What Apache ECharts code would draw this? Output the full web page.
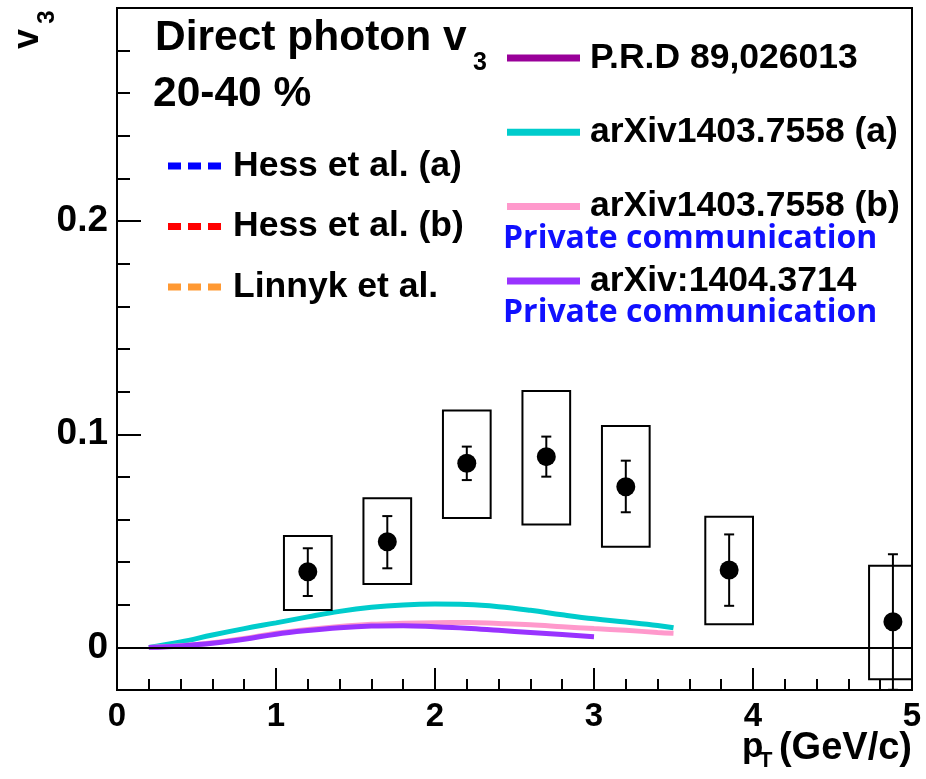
<!DOCTYPE html>
<html>
<head>
<meta charset="utf-8">
<script src="https://cdn.jsdelivr.net/npm/echarts@6/dist/echarts.min.js"></script>
<style>
  html, body { margin: 0; padding: 0; background: #fff; }
  #chart { width: 926px; height: 779px; }
</style>
</head>
<body>
<div id="chart"></div>
<script>
// Direct photon v3, 20-40 % centrality: measured points
const ptX    = [1.2, 1.7, 2.2, 2.7, 3.2, 3.85, 4.88];
const ptV3   = [0.0355, 0.0496, 0.0864, 0.0895, 0.0754, 0.0363, 0.0120];
const statLo = [0.0241, 0.0371, 0.0785, 0.0801, 0.0634, 0.0195, -0.0199];
const statHi = [0.0465, 0.0616, 0.0942, 0.0989, 0.0876, 0.0530, 0.0437];
const sysLo  = [0.0175, 0.0297, 0.0607, 0.0577, 0.0472, 0.0109, -0.0149];
const sysHi  = [0.0523, 0.0700, 0.1111, 0.1203, 0.1039, 0.0613, 0.0383];
const sysHalfWidth = 0.15;

// Model curves
const curvePt  = [0.2, 0.4, 0.6, 0.8, 1.0, 1.2, 1.4, 1.6, 1.8, 2.0, 2.2, 2.4, 2.6, 2.8, 3.0, 3.2, 3.4, 3.5];
const arxiv7558a = [0.0000, 0.0025, 0.0058, 0.0088, 0.0115, 0.0143, 0.0169, 0.0188, 0.0199, 0.0203, 0.0201, 0.0191, 0.0174, 0.0153, 0.0134, 0.0119, 0.0103, 0.0092];
const arxiv7558b = [0.0000, 0.0008, 0.0022, 0.0042, 0.0066, 0.0084, 0.0098, 0.0108, 0.0113, 0.0116, 0.0117, 0.0112, 0.0106, 0.0097, 0.0088, 0.0080, 0.0070, 0.0066];
const curvePt2 = [0.2, 0.4, 0.6, 0.8, 1.0, 1.2, 1.4, 1.6, 1.8, 2.0, 2.2, 2.4, 2.6, 2.8, 3.0];
const arxiv3714  = [0.0000, 0.0007, 0.0019, 0.0038, 0.0062, 0.0079, 0.0092, 0.0100, 0.0102, 0.0097, 0.0090, 0.0080, 0.0070, 0.0060, 0.0050];

// Axis ticks
const yMajorTicks = [0, 0.1, 0.2];
const yMinorTicks = [0.02, 0.04, 0.06, 0.08, 0.12, 0.14, 0.16, 0.18, 0.22, 0.24, 0.26, 0.28];

// Legend entries
const leftLegend  = ['Hess et al. (a)', 'Hess et al. (b)', 'Linnyk et al.'];
const rightLegend = ['P.R.D 89,026013', 'arXiv1403.7558 (a)', 'arXiv1403.7558 (b)', 'arXiv:1404.3714'];
const noteText = 'Private communication';

const FONT = "'Liberation Sans', Arial, Helvetica, sans-serif";
const NOTE_FONT = "'Open Sans', Lato, sans-serif";
const zip = (xs, ys) => xs.map((x, i) => [x, ys[i]]);

const pointRows = ptX.map((x, i) => [x, ptV3[i], statLo[i], statHi[i], sysLo[i], sysHi[i]]);

// Systematic boxes and statistical error bars, clipped to the frame
function renderErrors(params, api) {
  const cs = params.coordSys;
  const x = api.value(0);
  const clampY = y => Math.min(Math.max(y, cs.y), cs.y + cs.height);
  const clampX = v => Math.min(Math.max(v, cs.x), cs.x + cs.width);
  const bl = api.coord([x - sysHalfWidth, api.value(4)]);
  const tr = api.coord([x + sysHalfWidth, api.value(5)]);
  const left = clampX(bl[0]), right = clampX(tr[0]);
  const top = clampY(tr[1]), bottom = clampY(bl[1]);
  const c = api.coord([x, api.value(1)]);
  const eTop = clampY(api.coord([x, api.value(3)])[1]);
  const eBot = clampY(api.coord([x, api.value(2)])[1]);
  const cap = 5;
  const ls = { stroke: '#000', lineWidth: 2, fill: null };
  return {
    type: 'group',
    children: [
      { type: 'rect', shape: { x: left, y: top, width: right - left, height: bottom - top }, style: ls },
      { type: 'line', shape: { x1: c[0], y1: eTop, x2: c[0], y2: eBot }, style: ls },
      { type: 'line', shape: { x1: c[0] - cap, y1: eTop, x2: c[0] + cap, y2: eTop }, style: ls },
      { type: 'line', shape: { x1: c[0] - cap, y1: eBot, x2: c[0] + cap, y2: eBot }, style: ls }
    ]
  };
}

const dashIcon = 'path://M0,0H13V7H0Z M20,0H33V7H20Z M40,0H53V7H40Z';

const chart = echarts.init(document.getElementById('chart'));
chart.setOption({
  animation: false,
  backgroundColor: '#fff',
  grid: {
    left: 117, top: 8, right: 14, bottom: 89,
    show: true, borderColor: '#000', borderWidth: 2, backgroundColor: 'transparent'
  },
  xAxis: {
    type: 'value', min: 0, max: 5, interval: 1,
    axisLine: { onZero: false, lineStyle: { color: '#000', width: 2 } },
    axisTick: { inside: true, length: 22, lineStyle: { color: '#000', width: 2 } },
    minorTick: { show: true, splitNumber: 5, length: 11, lineStyle: { color: '#000', width: 2 } },
    splitLine: { show: false },
    axisLabel: { fontFamily: FONT, fontSize: 33, fontWeight: 'bold', color: '#000', margin: 10 }
  },
  yAxis: [
    {
      type: 'value', min: -0.02, max: 0.3,
      axisLine: { show: true, onZero: false, lineStyle: { color: '#000', width: 2 } },
      axisTick: { inside: true, length: 24, customValues: yMajorTicks, lineStyle: { color: '#000', width: 2 } },
      splitLine: { show: false },
      axisLabel: {
        customValues: yMajorTicks, fontFamily: FONT, fontSize: 37, fontWeight: 'bold', color: '#000', margin: 9,
        formatter: v => String(Math.round(v * 10) / 10)
      }
    },
    {
      type: 'value', min: -0.02, max: 0.3, position: 'left',
      axisLine: { show: false },
      axisTick: { show: true, inside: true, length: 13, customValues: yMinorTicks, lineStyle: { color: '#000', width: 2 } },
      splitLine: { show: false },
      axisLabel: { show: false }
    }
  ],
  legend: [
    {
      data: leftLegend.map(n => ({ name: n, icon: dashIcon })),
      orient: 'vertical', left: 163, top: 141, itemGap: 20.5,
      itemWidth: 53, itemHeight: 7, selectedMode: false,
      textStyle: { fontFamily: FONT, fontSize: 35.5, fontWeight: 'bold', color: '#000', lineHeight: 40, padding: [0, 0, 0, 7] }
    },
    {
      data: rightLegend.map(n => ({ name: n, icon: 'rect' })),
      orient: 'vertical', left: 502, top: 33, itemGap: 34.3,
      itemWidth: 73, itemHeight: 7, selectedMode: false,
      textStyle: { fontFamily: FONT, fontSize: 35.5, fontWeight: 'bold', color: '#000', lineHeight: 40, padding: [0, 0, 0, 5] }
    }
  ],
  graphic: [
    { type: 'text', x: 155, y: 38, style: { text: 'Direct photon v', font: `bold 42.5px ${FONT}`, fill: '#000', align: 'left', verticalAlign: 'middle' } },
    { type: 'text', x: 473, y: 63, style: { text: '3', font: `bold 25px ${FONT}`, fill: '#000', align: 'left', verticalAlign: 'middle' } },
    { type: 'text', x: 153, y: 94, style: { text: '20-40 %', font: `bold 42.5px ${FONT}`, fill: '#000', align: 'left', verticalAlign: 'middle' } },
    { type: 'text', x: 503, y: 239, style: { text: noteText, font: `bold 32px ${NOTE_FONT}`, fill: '#1010ff', align: 'left', verticalAlign: 'middle' } },
    { type: 'text', x: 503, y: 313, style: { text: noteText, font: `bold 32px ${NOTE_FONT}`, fill: '#1010ff', align: 'left', verticalAlign: 'middle' } },
    // y-axis title v_3 (rotated)
    { type: 'text', x: 28, y: 39, rotation: Math.PI / 2, style: { text: 'v', font: `bold 36px ${FONT}`, fill: '#000', align: 'center', verticalAlign: 'middle' } },
    { type: 'text', x: 47, y: 17, rotation: Math.PI / 2, style: { text: '3', font: `bold 24px ${FONT}`, fill: '#000', align: 'center', verticalAlign: 'middle' } },
    // x-axis title p_T (GeV/c)
    { type: 'text', x: 742, y: 747, style: { text: 'p', font: `bold 35px ${FONT}`, fill: '#000', align: 'left', verticalAlign: 'middle' } },
    { type: 'text', x: 759, y: 761, style: { text: 'T', font: `bold 22px ${FONT}`, fill: '#000', align: 'left', verticalAlign: 'middle' } },
    { type: 'text', x: 912, y: 749, style: { text: '(GeV/c)', font: `bold 38px ${FONT}`, fill: '#000', align: 'right', verticalAlign: 'middle' } }
  ],
  series: [
    { name: 'Hess et al. (a)', type: 'line', color: '#0000ff', data: [], lineStyle: { type: 'dashed', width: 5 } },
    { name: 'Hess et al. (b)', type: 'line', color: '#ff0000', data: [], lineStyle: { type: 'dashed', width: 5 } },
    { name: 'Linnyk et al.', type: 'line', color: '#ff9933', data: [], lineStyle: { type: 'dashed', width: 5 } },
    { name: 'P.R.D 89,026013', type: 'line', color: '#990099', data: [], lineStyle: { width: 5 } },
    {
      name: 'arXiv1403.7558 (a)', type: 'line', color: '#00cccc', smooth: 0.4, showSymbol: false,
      data: zip(curvePt, arxiv7558a), lineStyle: { width: 5 }, z: 3
    },
    {
      name: 'arXiv1403.7558 (b)', type: 'line', color: '#ff99cc', smooth: 0.4, showSymbol: false,
      data: zip(curvePt, arxiv7558b), lineStyle: { width: 5 }, z: 3
    },
    {
      name: 'arXiv:1404.3714', type: 'line', color: '#9933ff', smooth: 0.4, showSymbol: false,
      data: zip(curvePt2, arxiv3714), lineStyle: { width: 5 }, z: 4
    },
    {
      name: 'errors', type: 'custom', renderItem: renderErrors, data: pointRows, z: 5,
      encode: { x: 0, y: 1 },
      markLine: {
        silent: true, symbol: 'none', label: { show: false },
        lineStyle: { color: '#000', width: 2, type: 'solid' },
        data: [{ yAxis: 0 }]
      }
    },
    {
      name: 'v3', type: 'scatter', data: zip(ptX, ptV3), symbol: 'circle', symbolSize: 19,
      itemStyle: { color: '#000', opacity: 1 }, z: 6
    }
  ]
});
</script>
</body>
</html>
